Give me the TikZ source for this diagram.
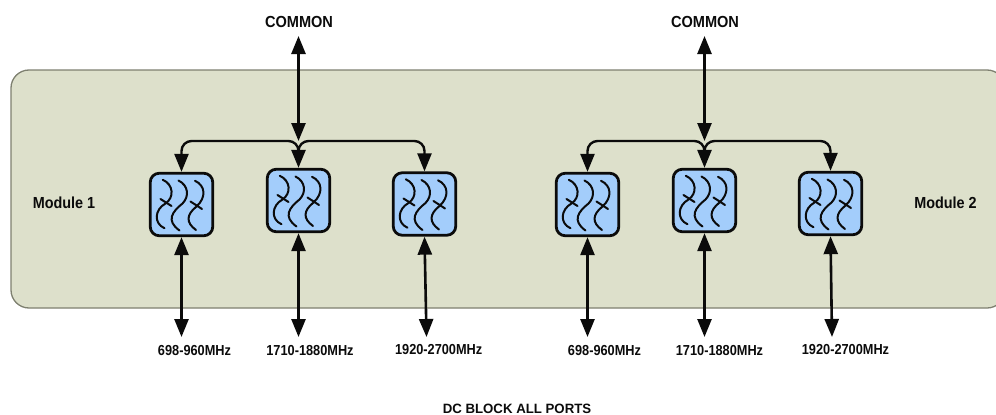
\documentclass[tikz,border=0pt]{standalone}
\usepackage{fontspec}
\setmainfont{Liberation Sans}
\usetikzlibrary{arrows.meta}
\definecolor{modfill}{HTML}{DDE0CB}
\definecolor{modline}{HTML}{7E8070}
\definecolor{filt}{HTML}{A3CDFB}
\definecolor{ink}{HTML}{0B0B0B}
\newcommand{\squeeze}[2]{\scalebox{#1}[1]{#2}}
\tikzset{
  x=1pt,y=-1pt,
  module/.style={draw=modline,line width=1.3pt,fill=modfill,rounded corners=18pt},
  filterbox/.style={draw=ink,line width=2.8pt,fill=filt,rounded corners=9pt,minimum width=62.5pt,minimum height=62.5pt,inner sep=0pt},
  wave/.style={draw=ink,line width=2pt,line cap=round},
  link/.style={draw=ink,line width=2.6pt,{Triangle[length=18pt,width=14pt]}-{Triangle[length=18pt,width=14pt]}},
  drop/.style={draw=ink,line width=2.6pt,-{Triangle[length=18pt,width=14pt]}},
  bus/.style={draw=ink,line width=2.4pt,rounded corners=10pt,-{Triangle[length=18pt,width=14pt]}},
  lab/.style={font=\bfseries\fontsize{14.5}{14.5}\selectfont,text=ink,inner sep=0pt},
  biglab/.style={font=\bfseries\fontsize{16}{16}\selectfont,text=ink,inner sep=0pt},
  dclab/.style={font=\bfseries\fontsize{13.5}{13.5}\selectfont,text=ink,inner sep=0pt},
}
\newcommand{\filtwaves}[1]{%
  \begin{scope}[shift={(#1)}]
    \draw[wave] (-18.7,-24.7) .. controls (-8,-20) and (-7,-7) .. (-16,-1) .. controls (-27,5) and (-28,19) .. (-17,23.7);
    \draw[wave] (-3,-24) .. controls (7,-19) and (8,-8) .. (1,-1) .. controls (-9,7) and (-16,16) .. (-2,26);
    \draw[wave] (13.5,-23.7) .. controls (24,-19) and (25,-7) .. (15,2) .. controls (5,10) and (4,18) .. (14.5,25.5);
    \draw[wave] (-21,-5.5) -- (-10,1.5);
    \draw[wave] (9,-3) -- (20.5,4.5);
  \end{scope}}
\begin{document}
\begin{tikzpicture}
\useasboundingbox (0,0) rectangle (996,415);
\draw[module] (11,70) rectangle (1005,308);
% Module 1
\node[filterbox] (a1) at (181.5,204.5) {};
\node[filterbox] (a2) at (298.5,200.5) {};
\node[filterbox] (a3) at (424.5,204) {};
\filtwaves{181.5,204.5}\filtwaves{298.5,200.5}\filtwaves{424.5,204}
% Module 2
\node[filterbox] (b1) at (587.5,204.5) {};
\node[filterbox] (b2) at (704.5,200.5) {};
\node[filterbox] (b3) at (830.5,203.5) {};
\filtwaves{587.5,204.5}\filtwaves{704.5,200.5}\filtwaves{830.5,203.5}
% Labels
\node[biglab] (ca) at (299,21.5) {\squeeze{.91}{COMMON}};
\node[biglab] (cb) at (705,21.5) {\squeeze{.91}{COMMON}};
\node[biglab] (m1) at (64,202.5) {\squeeze{.90}{Module 1}};
\node[biglab] (m2) at (945.5,202.5) {\squeeze{.90}{Module 2}};
\node[lab] (a1l) at (194.5,350.5) {\squeeze{.88}{698-960MHz}};
\node[lab] (a2l) at (310,350.5) {\squeeze{.88}{1710-1880MHz}};
\node[lab] (a3l) at (438.7,350) {\squeeze{.88}{1920-2700MHz}};
\node[lab] (b1l) at (604.5,350.5) {\squeeze{.88}{698-960MHz}};
\node[lab] (b2l) at (719.5,350.5) {\squeeze{.88}{1710-1880MHz}};
\node[lab] (b3l) at (845.5,350) {\squeeze{.88}{1920-2700MHz}};
\node[dclab] (dc) at (517,408.5) {\squeeze{.98}{DC BLOCK ALL PORTS}};
% Free ends
\coordinate (a0) at (298.5,36);
\coordinate (b0) at (704.5,36);
\coordinate (aj) at (298.5,141);
\coordinate (bj) at (704.5,141);
\coordinate (as) at (298.5,153);
\coordinate (bs) at (704.5,153);
\coordinate (a1e) at (181.5,337);
\coordinate (a2e) at (298.5,337);
\coordinate (a3e) at (426.5,337);
\coordinate (b1e) at (587.5,337);
\coordinate (b2e) at (704.5,337);
\coordinate (b3e) at (832,337);
% Connectors
\draw[link] (a0) -- (aj);
\draw[link] (b0) -- (bj);
\draw[bus] (as) -- (aj) -- (a1.north |- aj) -- (a1.north);
\draw[bus] (as) -- (aj) -- (a3.north |- aj) -- (a3.north);
\draw[bus] (bs) -- (bj) -- (b1.north |- bj) -- (b1.north);
\draw[bus] (bs) -- (bj) -- (b3.north |- bj) -- (b3.north);
\draw[drop] (as) -- (a2.north);
\draw[drop] (bs) -- (b2.north);
\draw[link] (a1.south) -- (a1e);
\draw[link] (a2.south) -- (a2e);
\draw[link] (a3.south) -- (a3e);
\draw[link] (b1.south) -- (b1e);
\draw[link] (b2.south) -- (b2e);
\draw[link] (b3.south) -- (b3e);
\end{tikzpicture}
\end{document}
